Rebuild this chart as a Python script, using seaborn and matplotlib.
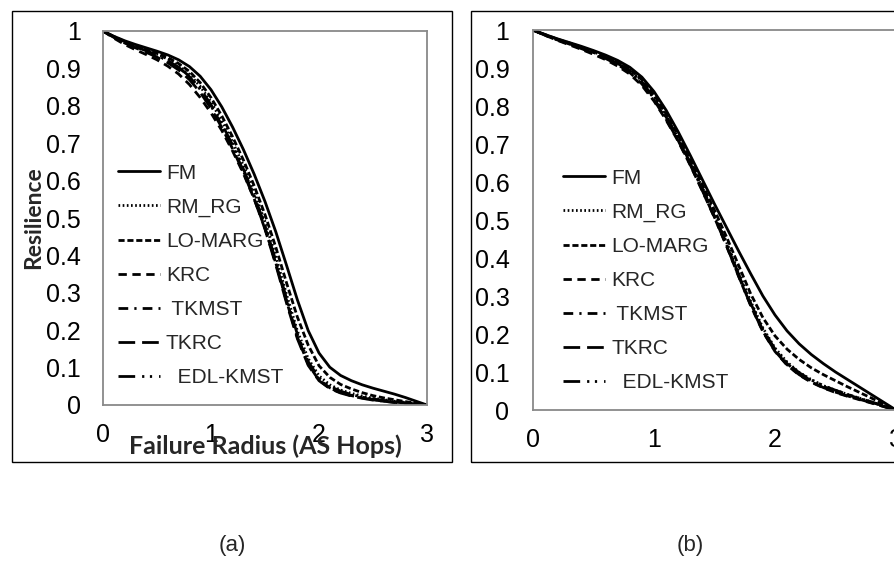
import matplotlib
matplotlib.use("Agg")
import matplotlib.pyplot as plt
from matplotlib.patches import Rectangle
import seaborn as sns
import pandas as pd

sns.set_style("white")
plt.rcParams["font.family"] = ["Liberation Sans", "DejaVu Sans"]

# ---------------- data ----------------
radius = [0.0, 0.1, 0.2, 0.3, 0.4, 0.5, 0.6, 0.7, 0.8, 0.9,
          1.0, 1.1, 1.2, 1.3, 1.4, 1.5, 1.6, 1.7, 1.8, 1.9,
          2.0, 2.1, 2.2, 2.3, 2.4, 2.5, 2.6, 2.7, 2.8, 2.9, 3.0]

methods = ["FM", "RM_RG", "LO-MARG", "KRC", "TKMST", "TKRC", "EDL-KMST"]
legend_labels = ["FM", "RM_RG", "LO-MARG", "KRC", " TKMST", "TKRC", "  EDL-KMST"]

# panel (a)
a_fm = [1.000, .986, .974, .964, .955, .946, .936, .923, .905, .879,
        .843, .797, .743, .683, .617, .544, .463, .373, .281, .199,
        .139, .101, .079, .065, .054, .045, .037, .029, .020, .010, 0.0]
a_rm_rg = [1.0, .985, .971, .960, .949, .938, .925, .908, .884, .852,
           .810, .760, .703, .640, .570, .490, .397, .295, .198, .124,
           .078, .054, .040, .031, .024, .018, .014, .010, .007, .003, 0.0]
a_lo_marg = [1.0, .985, .972, .961, .951, .941, .929, .913, .892, .862,
             .822, .773, .717, .655, .586, .509, .422, .326, .235, .160,
             .105, .074, .055, .043, .033, .025, .019, .014, .009, .005, 0.0]
a_krc = [1.0, .981, .964, .950, .937, .923, .906, .885, .857, .822,
         .781, .734, .679, .619, .551, .472, .379, .277, .181, .109,
         .066, .045, .033, .025, .019, .014, .010, .007, .005, .002, 0.0]
a_tkmst = [1.0, .984, .970, .958, .947, .935, .921, .903, .878, .844,
           .800, .748, .690, .626, .555, .474, .380, .278, .183, .111,
           .068, .046, .034, .026, .020, .015, .011, .008, .005, .002, 0.0]
a_tkrc = [1.0, .983, .968, .955, .943, .930, .915, .896, .870, .836,
          .793, .742, .685, .622, .551, .470, .375, .272, .177, .106,
          .065, .044, .032, .024, .018, .013, .010, .007, .004, .002, 0.0]
a_edl_kmst = [1.0, .984, .970, .958, .947, .935, .921, .903, .879, .846,
              .803, .752, .695, .631, .560, .480, .386, .284, .189, .116,
              .072, .050, .037, .028, .021, .016, .012, .009, .006, .003, 0.0]

# panel (b)
b_fm = [1.000, .988, .977, .967, .957, .946, .934, .920, .902, .876,
        .838, .789, .732, .670, .606, .542, .480, .418, .358, .300,
        .250, .208, .174, .146, .122, .100, .080, .060, .040, .020, 0.0]
b_rm_rg = [1.0, .987, .976, .965, .954, .942, .930, .914, .895, .866,
           .825, .774, .717, .653, .585, .515, .441, .362, .285, .216,
           .163, .126, .099, .080, .064, .052, .041, .031, .021, .011, 0.0]
b_lo_marg = [1.0, .988, .976, .966, .955, .944, .931, .916, .897, .869,
             .829, .779, .722, .659, .593, .526, .455, .380, .305, .243,
             .195, .160, .133, .111, .093, .077, .061, .046, .031, .015, 0.0]
b_krc = [1.0, .986, .973, .961, .949, .936, .922, .905, .884, .854,
         .813, .763, .707, .644, .576, .506, .431, .351, .274, .206,
         .154, .118, .092, .073, .058, .046, .036, .027, .018, .009, 0.0]
b_tkmst = [1.0, .987, .975, .964, .953, .941, .928, .912, .892, .862,
           .820, .769, .712, .648, .580, .510, .435, .355, .278, .210,
           .158, .122, .096, .077, .062, .050, .040, .030, .020, .010, 0.0]
b_tkrc = [1.0, .986, .974, .963, .951, .939, .925, .909, .888, .858,
          .816, .765, .709, .645, .577, .507, .432, .352, .275, .207,
          .155, .119, .093, .074, .059, .047, .037, .028, .019, .009, 0.0]
b_edl_kmst = [1.0, .987, .975, .964, .953, .941, .928, .912, .892, .863,
              .822, .771, .714, .650, .582, .512, .437, .357, .280, .212,
              .160, .124, .098, .079, .064, .052, .041, .031, .021, .010, 0.0]

panel_a = [a_fm, a_rm_rg, a_lo_marg, a_krc, a_tkmst, a_tkrc, a_edl_kmst]
panel_b = [b_fm, b_rm_rg, b_lo_marg, b_krc, b_tkmst, b_tkrc, b_edl_kmst]

y_ticks = [0, 0.1, 0.2, 0.3, 0.4, 0.5, 0.6, 0.7, 0.8, 0.9, 1]
y_ticklabels = ["0", "0.1", "0.2", "0.3", "0.4", "0.5", "0.6", "0.7", "0.8", "0.9", "1"]
x_ticks = [0, 1, 2, 3]
x_ticklabels = ["0", "1", "2", "3"]

# ---------------- styles ----------------
dash_map = {
    "FM": "",
    "RM_RG": (0.6, 0.9),
    "LO-MARG": (2.2, 1.0),
    "KRC": (3.0, 2.0),
    "TKMST": (3.5, 2.2, 0.8, 2.2),
    "TKRC": (6.0, 2.5),
    "EDL-KMST": (6.0, 2.5, 0.8, 2.0, 0.8, 2.5),
}

GRAY = "#898989"


def make_df(series):
    rows = []
    for name, vals in zip(methods, series):
        for x, y in zip(radius, vals):
            rows.append({"Method": name, "radius": x, "res": y})
    return pd.DataFrame(rows)


def style_axes(ax, ypad):
    ax.set_xlim(0, 3)
    ax.set_ylim(0, 1)
    ax.set_xticks(x_ticks)
    ax.set_xticklabels(x_ticklabels)
    ax.set_yticks(y_ticks)
    ax.set_yticklabels(y_ticklabels)
    for s in ax.spines.values():
        s.set_color(GRAY)
        s.set_linewidth(1.3)
        s.set_visible(True)
    ax.tick_params(axis="both", direction="in", length=6, width=1, color=GRAY,
                   labelsize=18, labelcolor="black")
    ax.tick_params(axis="y", pad=ypad)
    ax.tick_params(axis="x", pad=13)
    ax.set_facecolor("white")


fig = plt.figure(figsize=(8.94, 5.79), dpi=100)
ax1 = fig.add_axes([103 / 894, 1 - 405 / 579, 324 / 894, 374 / 579])
ax2 = fig.add_axes([533 / 894, 1 - 410 / 579, 363 / 894, 380 / 579])

for ax, series, leg_anchor, ypad in [(ax1, panel_a, (0.046, 0.645), 16),
                                     (ax2, panel_b, (0.083, 0.635), 17)]:
    df = make_df(series)
    sns.lineplot(data=df, x="radius", y="res", style="Method",
                 style_order=methods, dashes=dash_map, color="black",
                 linewidth=2.0, legend=False, ax=ax, sort=False)
    style_axes(ax, ypad)
    ax.set_xlabel("")
    ax.set_ylabel("")
    handles = ax.get_lines()[:len(methods)]
    ax.legend(handles, legend_labels, loc="upper left", bbox_to_anchor=leg_anchor,
              frameon=False, fontsize=15, handlelength=2.0, handletextpad=0.3,
              labelspacing=0.72, borderaxespad=0, borderpad=0)

ax1.set_xlabel("Failure Radius (AS Hops)", family="Lato", fontweight="bold",
               fontsize=18, va="center")
ax1.xaxis.set_label_coords(0.5, -0.11)
ax1.set_ylabel("Resilience", family="Lato", fontweight="bold", fontsize=16.5,
               va="center")
ax1.yaxis.set_label_coords(-0.215, 0.5)

# outer frames around each panel
fig.add_artist(Rectangle((12 / 894, 1 - 462 / 579), 440 / 894, 451 / 579,
                         transform=fig.transFigure, fill=False,
                         edgecolor="black", linewidth=1.0))
fig.add_artist(Rectangle((471 / 894, 1 - 462 / 579), 440 / 894, 451 / 579,
                         transform=fig.transFigure, fill=False,
                         edgecolor="black", linewidth=1.0))

fig.text(232 / 894, 1 - 545 / 579, "(a)", ha="center", va="center", fontsize=16)
fig.text(690 / 894, 1 - 545 / 579, "(b)", ha="center", va="center", fontsize=16)

fig.savefig("out.png", dpi=100, facecolor="white")
